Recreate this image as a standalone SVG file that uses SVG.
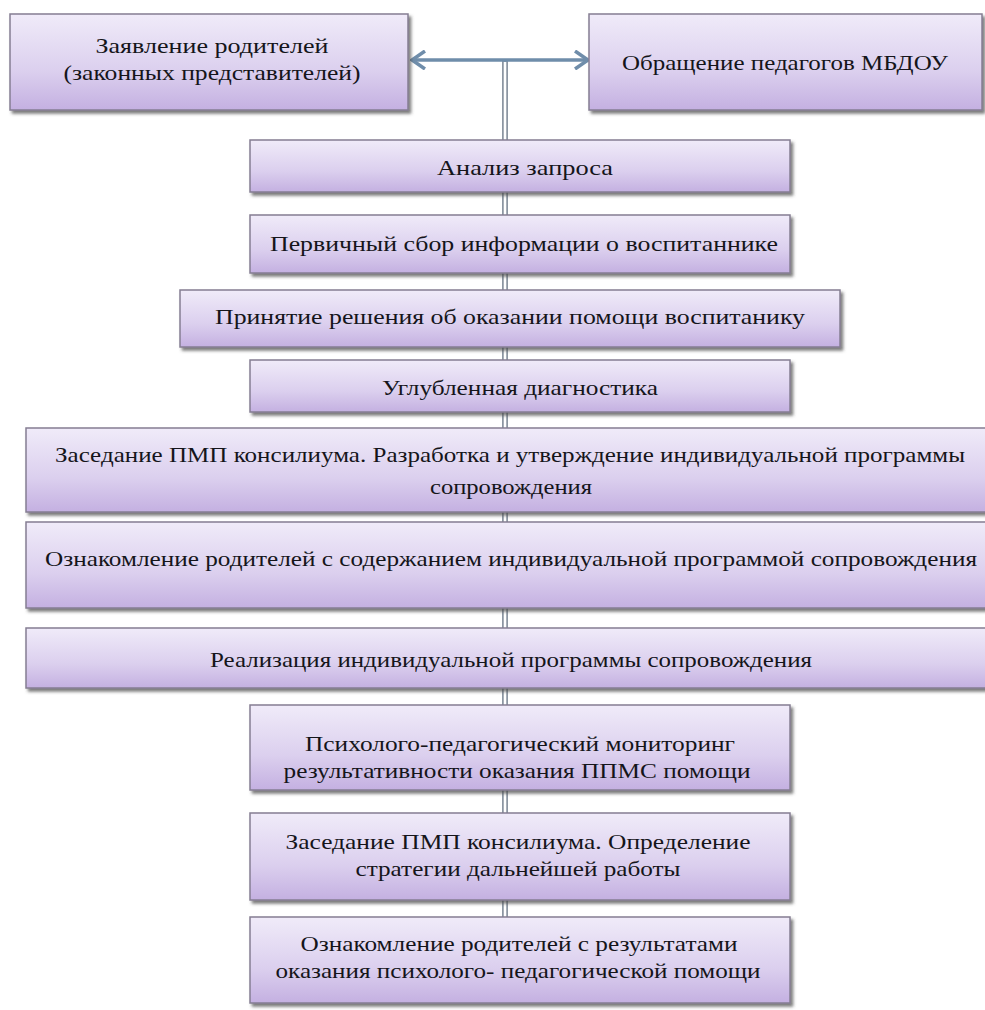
<svg xmlns="http://www.w3.org/2000/svg" width="985" height="1010" viewBox="0 0 985 1010">
<style>
.box{fill:url(#g);stroke:#857e92;stroke-width:1.5;filter:url(#sh)}
.t{font-family:"Liberation Serif","Times New Roman",serif;font-size:22px;fill:#15151a;text-anchor:middle}
.dbl-o{stroke:#8c96a2;stroke-width:6;fill:none}
.dbl-i{stroke:#ffffff;stroke-width:2.5;fill:none}
.arr{stroke:#6f8daa;stroke-width:3.5;fill:none}
</style>
<defs>
<linearGradient id="g" x1="0" y1="0" x2="0" y2="1">
<stop offset="0" stop-color="#f0ebf9"/>
<stop offset="0.6" stop-color="#dbcfee"/>
<stop offset="1" stop-color="#c4b0e1"/>
</linearGradient>
<filter id="sh" x="-5%" y="-10%" width="115%" height="135%">
<feDropShadow dx="2.5" dy="3" stdDeviation="1.5" flood-color="#444" flood-opacity="0.7"/>
</filter>
<marker id="ah" viewBox="0 0 16 20" refX="14" refY="10" markerWidth="16" markerHeight="20" markerUnits="userSpaceOnUse" orient="auto-start-reverse">
<path d="M1,1 L14,10 L1,19" fill="none" stroke="#6f8daa" stroke-width="3.5"/>
</marker>
</defs>
<g id="connectors">
<line class="dbl-o" x1="505" y1="60" x2="505" y2="920"/>
<line class="dbl-i" x1="505" y1="62" x2="505" y2="920"/>
<line class="arr" x1="412" y1="60" x2="588" y2="60" marker-start="url(#ah)" marker-end="url(#ah)"/>
</g>
<g id="n1"><rect class="box" x="10" y="14" width="398" height="96"/>
<text class="t" x="212" y="53" textLength="233" lengthAdjust="spacingAndGlyphs">Заявление родителей</text>
<text class="t" x="212" y="80" textLength="297" lengthAdjust="spacingAndGlyphs">(законных представителей)</text></g>
<g id="n2"><rect class="box" x="589" y="14" width="393" height="96"/>
<text class="t" x="785" y="70" textLength="326" lengthAdjust="spacingAndGlyphs">Обращение педагогов МБДОУ</text></g>
<g id="n3"><rect class="box" x="250" y="140" width="540" height="52"/>
<text class="t" x="525" y="175" textLength="176" lengthAdjust="spacingAndGlyphs">Анализ запроса</text></g>
<g id="n4"><rect class="box" x="250" y="215" width="540" height="58"/>
<text class="t" x="524" y="251" textLength="508" lengthAdjust="spacingAndGlyphs">Первичный сбор информации о воспитаннике</text></g>
<g id="n5"><rect class="box" x="180" y="290" width="660" height="57"/>
<text class="t" x="510" y="324" textLength="590" lengthAdjust="spacingAndGlyphs">Принятие решения об оказании помощи воспитанику</text></g>
<g id="n6"><rect class="box" x="250" y="360" width="540" height="52"/>
<text class="t" x="520" y="395" textLength="276" lengthAdjust="spacingAndGlyphs">Углубленная диагностика</text></g>
<g id="n7"><rect class="box" x="26" y="428" width="970" height="84"/>
<text class="t" x="510" y="462" textLength="910" lengthAdjust="spacingAndGlyphs">Заседание ПМП консилиума. Разработка и утверждение индивидуальной программы</text>
<text class="t" x="511" y="494" textLength="162" lengthAdjust="spacingAndGlyphs">сопровождения</text></g>
<g id="n8"><rect class="box" x="26" y="522" width="970" height="86"/>
<text class="t" x="511" y="566" textLength="932" lengthAdjust="spacingAndGlyphs">Ознакомление родителей с содержанием индивидуальной программой сопровождения</text></g>
<g id="n9"><rect class="box" x="26" y="628" width="970" height="60"/>
<text class="t" x="511" y="667" textLength="602" lengthAdjust="spacingAndGlyphs">Реализация индивидуальной программы сопровождения</text></g>
<g id="n10"><rect class="box" x="250" y="705" width="540" height="85"/>
<text class="t" x="520" y="751" textLength="430" lengthAdjust="spacingAndGlyphs">Психолого-педагогический мониторинг</text>
<text class="t" x="517" y="778" textLength="467" lengthAdjust="spacingAndGlyphs">результативности оказания ППМС помощи</text></g>
<g id="n11"><rect class="box" x="250" y="813" width="540" height="87"/>
<text class="t" x="518" y="849" textLength="465" lengthAdjust="spacingAndGlyphs">Заседание ПМП консилиума. Определение</text>
<text class="t" x="518" y="876" textLength="325" lengthAdjust="spacingAndGlyphs">стратегии дальнейшей работы</text></g>
<g id="n12"><rect class="box" x="250" y="917" width="540" height="86"/>
<text class="t" x="519" y="951" textLength="437" lengthAdjust="spacingAndGlyphs">Ознакомление родителей с результатами</text>
<text class="t" x="518" y="978" textLength="485" lengthAdjust="spacingAndGlyphs">оказания психолого- педагогической помощи</text></g>
</svg>
